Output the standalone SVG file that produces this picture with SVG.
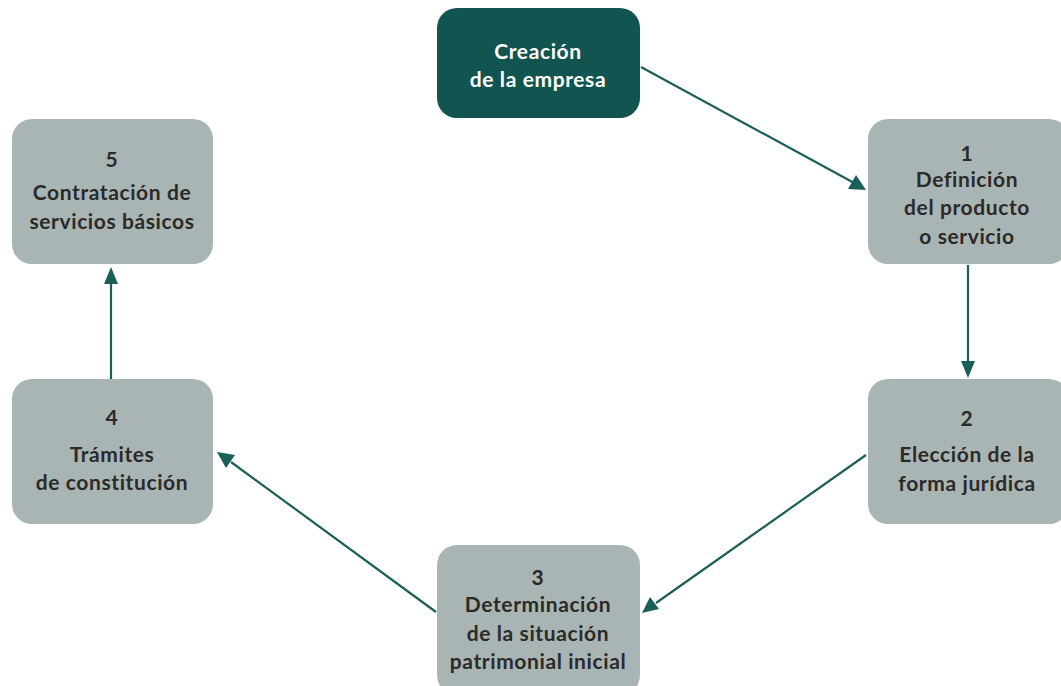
<svg xmlns="http://www.w3.org/2000/svg" width="1061" height="686" viewBox="0 0 1061 686">
<style>
.box{fill:#a9b5b4}
.dark{fill:#12544f}
.t{font-family:Lato,"Open Sans","Liberation Sans",sans-serif;font-weight:bold;font-size:21px;letter-spacing:0.6px;text-anchor:middle;fill:#2b2a28}
.w{fill:#ffffff}
.c{stroke:#1b5f59;stroke-width:2.2;fill:none}
.h{fill:#1b5f59}
</style>
<rect width="1061" height="686" fill="#ffffff"/>
<g id="connectors">
<line class="c" x1="641" y1="67" x2="856" y2="184"/>
<path class="h" d="M866,190 L848,189 L856,175 z"/>
<line class="c" x1="968" y1="265" x2="968" y2="362"/>
<path class="h" d="M961,361 L975,361 L968,378 z"/>
<line class="c" x1="866" y1="455" x2="656" y2="603"/>
<path class="h" d="M642,613 L650,597 L659,609 z"/>
<line class="c" x1="436" y1="612" x2="231" y2="462"/>
<path class="h" d="M217,452 L235,455 L226,468 z"/>
<line class="c" x1="111" y1="379" x2="111" y2="283"/>
<path class="h" d="M104,284 L118,284 L111,267 z"/>
</g>
<g id="start">
<rect class="dark" x="437" y="8" width="203" height="110" rx="20"/>
<text class="t w" x="538" y="59">Creación</text>
<text class="t w" x="538" y="87">de la empresa</text>
</g>
<g id="n1">
<rect class="box" x="868" y="119" width="201" height="145" rx="20"/>
<text class="t" x="967" y="161">1</text>
<text class="t" x="967" y="187">Definición</text>
<text class="t" x="967" y="215">del producto</text>
<text class="t" x="967" y="244">o servicio</text>
</g>
<g id="n2">
<rect class="box" x="868" y="379" width="201" height="145" rx="20"/>
<text class="t" x="967" y="426">2</text>
<text class="t" x="967" y="462">Elección de la</text>
<text class="t" x="967" y="491">forma jurídica</text>
</g>
<g id="n3">
<rect class="box" x="437" y="545" width="203" height="150" rx="20"/>
<text class="t" x="538" y="585">3</text>
<text class="t" x="538" y="612">Determinación</text>
<text class="t" x="538" y="641">de la situación</text>
<text class="t" x="538" y="669">patrimonial inicial</text>
</g>
<g id="n4">
<rect class="box" x="12" y="379" width="201" height="145" rx="20"/>
<text class="t" x="112" y="425">4</text>
<text class="t" x="112" y="462">Trámites</text>
<text class="t" x="112" y="490">de constitución</text>
</g>
<g id="n5">
<rect class="box" x="12" y="119" width="201" height="145" rx="20"/>
<text class="t" x="112" y="167">5</text>
<text class="t" x="112" y="200">Contratación de</text>
<text class="t" x="112" y="229">servicios básicos</text>
</g>
</svg>
